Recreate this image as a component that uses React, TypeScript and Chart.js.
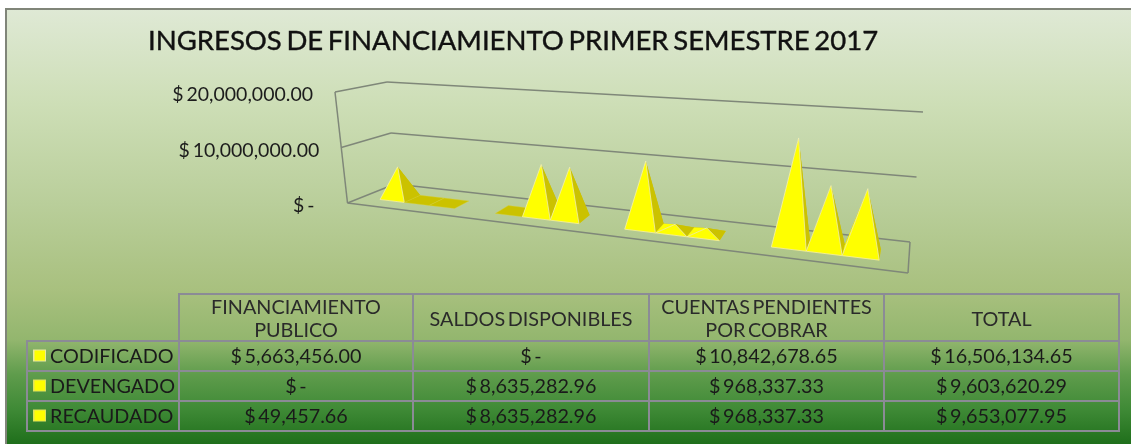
import React, { useEffect, useRef } from "react";
import { Chart, registerables } from "chart.js";

Chart.register(...registerables);

const chartTitle = "INGRESOS DE FINANCIAMIENTO PRIMER SEMESTRE 2017";
const categories = [
  ["FINANCIAMIENTO", "PUBLICO"],
  ["SALDOS DISPONIBLES"],
  ["CUENTAS PENDIENTES", "POR COBRAR"],
  ["TOTAL"],
];
const codificado = [5663456.0, 0, 10842678.65, 16506134.65];
const devengado = [0, 8635282.96, 968337.33, 9603620.29];
const recaudado = [49457.66, 8635282.96, 968337.33, 9653077.95];
const seriesNames = ["CODIFICADO", "DEVENGADO", "RECAUDADO"];
const seriesValues = [codificado, devengado, recaudado];

const money = (v: number) =>
  v === 0
    ? "$ -"
    : "$ " + v.toLocaleString("en-US", { minimumFractionDigits: 2, maximumFractionDigits: 2 });

// 3D box corners on the page: [x, y]; f/b = front/back, l/r = left/right, b/t = bottom/top
const BOX = {
  flb: [347.5, 203], flt: [335, 92],
  blb: [395, 184], blt: [387, 82],
  brb: [910, 242], brt: [923, 112],
  frb: [908, 273], frt: [925, 134],
};
const PERSPECTIVE = 1.28;
const DEPTH_FRONT = 0.3;
const DEPTH_BACK = 0.66;
const LINE = "#7f8779";
const BRIGHT = [255, 255, 0];
const DARK = [203, 194, 0];
const COL_X = [179, 413, 649, 884, 1119];
const ROW_Y = [294, 341, 371, 401, 431];
const LEGEND_X = 27;

function project(u: number, v: number, w: number) {
  const s = u / (u + (1 - u) * PERSPECTIVE);
  const lerp = (a: number[], b: number[], t: number) => [a[0] + (b[0] - a[0]) * t, a[1] + (b[1] - a[1]) * t];
  const bottom = lerp(lerp(BOX.flb, BOX.frb, s), lerp(BOX.blb, BOX.brb, s), w);
  const top = lerp(lerp(BOX.flt, BOX.frt, s), lerp(BOX.blt, BOX.brt, s), w);
  return lerp(bottom, top, v);
}

function poly(ctx: CanvasRenderingContext2D, pts: number[][], fill: string, stroke?: string) {
  ctx.beginPath();
  pts.forEach((p, i) => (i ? ctx.lineTo(p[0], p[1]) : ctx.moveTo(p[0], p[1])));
  ctx.closePath();
  ctx.fillStyle = fill;
  ctx.fill();
  if (stroke) {
    ctx.strokeStyle = stroke;
    ctx.lineWidth = 1;
    ctx.stroke();
  }
}

function line(ctx: CanvasRenderingContext2D, a: number[], b: number[]) {
  ctx.beginPath();
  ctx.moveTo(a[0], a[1]);
  ctx.lineTo(b[0], b[1]);
  ctx.stroke();
}

const backdrop = {
  id: "backdrop",
  beforeDraw(chart: any) {
    const { ctx, width, height } = chart;
    const g = ctx.createLinearGradient(0, 9, 0, height);
    g.addColorStop(0, "#dfe9d5");
    g.addColorStop(0.22, "#cddeb6");
    g.addColorStop(0.45, "#b9ce9a");
    g.addColorStop(0.65, "#a8c07e");
    g.addColorStop(0.76, "#93b66e");
    g.addColorStop(0.84, "#5f9c4c");
    g.addColorStop(0.92, "#3f8a36");
    g.addColorStop(1, "#1f6f1b");
    ctx.save();
    ctx.fillStyle = "#ffffff";
    ctx.fillRect(0, 0, width, height);
    ctx.fillStyle = g;
    ctx.fillRect(6, 9, width - 6, height - 9);
    ctx.fillStyle = "#808579";
    ctx.fillRect(5, 8, width - 5, 2);
    ctx.fillRect(5, 8, 2, height - 8);
    ctx.restore();
  },
};

const box3d = {
  id: "box3d",
  afterDatasetsDraw(chart: any) {
    const { ctx, chartArea: area } = chart;
    const yScale = chart.scales.y;
    ctx.save();
    // Walls and gridlines
    ctx.strokeStyle = LINE;
    ctx.lineWidth = 1.5;
    yScale.ticks.forEach((t: any) => {
      const v = (area.bottom - yScale.getPixelForValue(t.value)) / area.height;
      const a = project(0, v, 0);
      const b = project(0, v, 1);
      const c = project(1, v, 1);
      line(ctx, a, b);
      line(ctx, b, c);
      ctx.font = "19.5px Lato";
      (ctx as any).wordSpacing = "-2px";
      ctx.fillStyle = "#1c1c1c";
      ctx.textAlign = "right";
      ctx.textBaseline = "middle";
      ctx.fillText(String(t.label), a[0] - (t.value === 0 ? 30 : 22), a[1] + 3);
    });
    line(ctx, project(0, 0, 0), project(0, 1, 0));
    line(ctx, project(0, 0, 0), project(1, 0, 0));
    line(ctx, project(1, 0, 0), project(1, 0, 1));

    // Pyramids, drawn left to right from the bar elements
    const n = chart.data.labels.length;
    for (let c = 0; c < n; c++) {
      chart.data.datasets.forEach((_: any, d: number) => {
        const bar = chart.getDatasetMeta(d).data[c];
        const u0 = (bar.x - bar.width / 2 - area.left) / area.width;
        const u1 = (bar.x + bar.width / 2 - area.left) / area.width;
        const v = (bar.base - bar.y) / area.height;
        const fl = project(u0, 0, DEPTH_FRONT);
        const fr = project(u1, 0, DEPTH_FRONT);
        const br = project(u1, 0, DEPTH_BACK);
        const bl = project(u0, 0, DEPTH_BACK);
        const apex = project((u0 + u1) / 2, v, (DEPTH_FRONT + DEPTH_BACK) / 2);
        const k = Math.min(1, v / 0.03);
        const mix = BRIGHT.map((b, i) => Math.round(DARK[i] + (b - DARK[i]) * k));
        const front = `rgb(${mix.join(",")})`;
        const dark = `rgb(${DARK.join(",")})`;
        poly(ctx, [fl, fr, br, bl], dark, "rgba(215,210,60,0.4)");
        if (v > 0.01) {
          poly(ctx, [bl, br, apex], dark);
          poly(ctx, [fl, bl, apex], front);
          poly(ctx, [fr, br, apex], dark);
          poly(ctx, [fl, fr, apex], front, "rgba(240,238,190,0.75)");
        }
      });
    }
    ctx.restore();
  },
};

const overlay = {
  id: "overlay",
  afterDraw(chart: any) {
    const { ctx } = chart;
    ctx.save();
    // Title
    ctx.font = "27.5px Lato";
    (ctx as any).wordSpacing = "-2.4px";
    ctx.fillStyle = "#111111";
    ctx.strokeStyle = "#111111";
    ctx.lineWidth = 0.4;
    ctx.textAlign = "left";
    ctx.textBaseline = "middle";
    ctx.fillText(chartTitle, 148, 41);
    ctx.strokeText(chartTitle, 148, 41);

    // Data table
    ctx.strokeStyle = "#8b8b96";
    ctx.lineWidth = 2;
    COL_X.forEach((x) => line(ctx, [x, ROW_Y[0]], [x, ROW_Y[4]]));
    line(ctx, [COL_X[0] - 1, ROW_Y[0]], [COL_X[4] + 1, ROW_Y[0]]);
    ROW_Y.slice(1).forEach((y) => line(ctx, [LEGEND_X - 1, y], [COL_X[4] + 1, y]));
    line(ctx, [LEGEND_X, ROW_Y[1]], [LEGEND_X, ROW_Y[4]]);

    ctx.font = "19.8px Lato";
    (ctx as any).wordSpacing = "-2.5px";
    ctx.textBaseline = "middle";
    ctx.textAlign = "center";
    ctx.fillStyle = "#2a2a2a";
    categories.forEach((lines, i) => {
      const cx = (COL_X[i] + COL_X[i + 1]) / 2;
      const cy = (ROW_Y[0] + ROW_Y[1]) / 2 + 2;
      lines.forEach((t, j) => ctx.fillText(t, cx, cy + (j - (lines.length - 1) / 2) * 23));
    });
    seriesNames.forEach((name, r) => {
      const cy = (ROW_Y[r + 1] + ROW_Y[r + 2]) / 2 + 1;
      ctx.fillStyle = r === 0 ? "#e8e8a0" : "#dfe060";
      ctx.fillRect(33, cy - 7.5, 13, 12);
      ctx.fillStyle = "#ffff00";
      ctx.fillRect(34.5, cy - 6.5, 10.5, 10);
      ctx.fillStyle = "#1a1a1a";
      ctx.textAlign = "left";
      ctx.fillText(name, 50, cy);
      ctx.textAlign = "center";
      seriesValues[r].forEach((val, i) => {
        ctx.fillText(money(val), (COL_X[i] + COL_X[i + 1]) / 2, cy);
      });
    });
    ctx.restore();
  },
};

export default function App() {
  const ref = useRef<HTMLCanvasElement>(null);
  useEffect(() => {
    const chart = new Chart(ref.current as HTMLCanvasElement, {
      type: "bar",
      data: {
        labels: categories.map((c) => c.join(" ")),
        datasets: seriesNames.map((name, i) => ({
          label: name,
          data: seriesValues[i],
          backgroundColor: "rgba(0,0,0,0)",
          categoryPercentage: 0.66,
          barPercentage: 1,
        })),
      },
      options: {
        animation: false,
        responsive: false,
        layout: { padding: { left: 100, right: 100, top: 92, bottom: 241 } },
        plugins: { legend: { display: false }, title: { display: false }, tooltip: { enabled: false } },
        scales: {
          x: { display: false },
          y: {
            display: false,
            min: 0,
            max: 20000000,
            ticks: { stepSize: 10000000, callback: (v: any) => money(Number(v)) + (Number(v) === 0 ? " " : "") },
          },
        },
      },
      plugins: [backdrop, box3d, overlay],
    } as any);
    return () => chart.destroy();
  }, []);
  return (
    <div style={{ position: "absolute", left: 0, top: 0 }}>
      <canvas ref={ref} width={1131} height={444} style={{ display: "block" }} />
    </div>
  );
}
